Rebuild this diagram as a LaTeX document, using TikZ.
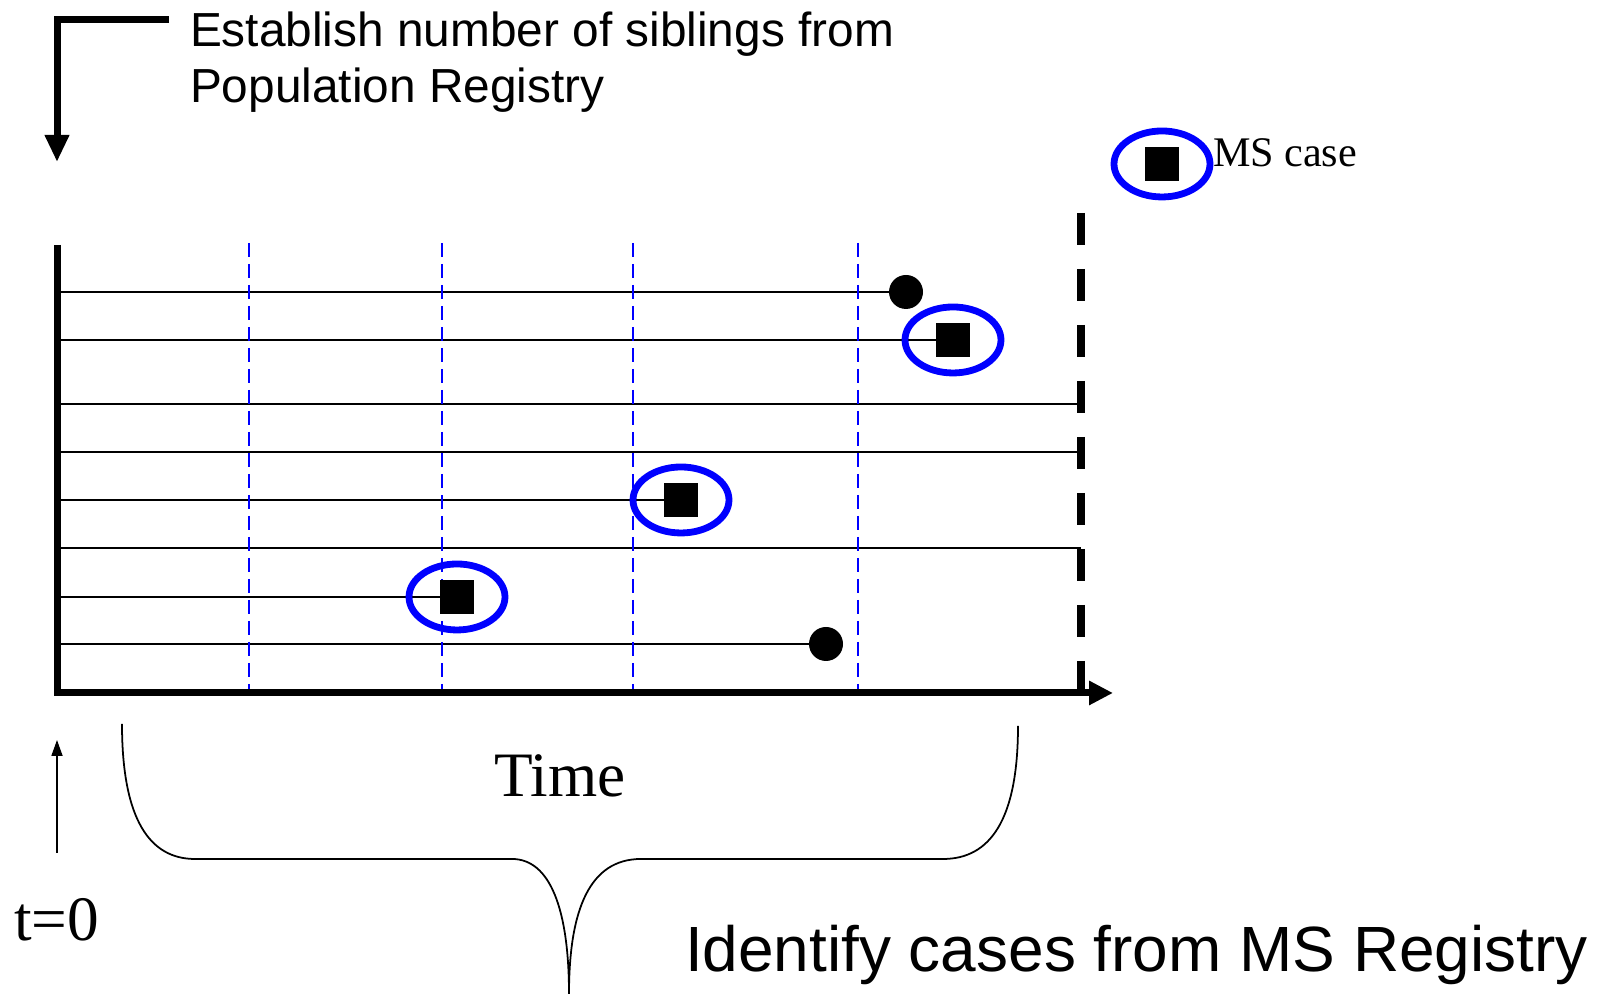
\documentclass[tikz,border=0pt]{standalone}
\usepackage{fontspec}
\setmainfont{Liberation Serif}
\newfontfamily\arialfont{Liberation Sans}
\usepackage{tikz}
\usetikzlibrary{arrows.meta,shapes.geometric,backgrounds}

\begin{document}
\begin{tikzpicture}[
>=Stealth,
every node/.style={inner sep=0pt,outer sep=0pt},
axis/.style={line width=0.07cm},
row/.style={line width=0.5pt},
visit/.style={blue,line width=0.5pt,dash pattern=on 0.14cm off 0.07cm},
censor/.style={line width=0.08cm,dash pattern=on 0.32cm off 0.24cm},
death/.style={circle,fill=black,minimum size=0.34cm},
case/.style={rectangle,fill=black,minimum size=0.34cm},
ring/.style={ellipse,draw=blue,line width=0.068cm,minimum width=0.96cm,minimum height=0.66cm},
serif/.style={font=\fontsize{18}{21}\selectfont},
sans/.style={font=\arialfont\fontsize{13.6}{16}\selectfont}
]
\useasboundingbox (0,0) rectangle (16.07,9.94);

% Axes
\coordinate (origin) at (0.57,3.01);
\coordinate (ytop) at (0.57,7.49);
\coordinate (xend) at (11.13,3.01);
\draw[axis,-{Triangle[length=0.24cm,width=0.23cm]}] (ytop) |- (xend);

% End of follow-up
\coordinate (fu) at (10.81,7.81);
\draw[censor] (fu) -- (fu |- origin);

% Siblings: deaths, MS cases
\node[death] (d1) at (9.06,7.02) {};
\node[ring] (r1) at (9.53,6.54) {};
\node[case] (s1) at (9.53,6.54) {};
\node[ring] (r2) at (6.81,4.94) {};
\node[case] (s2) at (6.81,4.94) {};
\node[ring] (r3) at (4.57,3.97) {};
\node[case] (s3) at (4.57,3.97) {};
\node[death] (d2) at (8.26,3.50) {};

\begin{scope}[on background layer]
% follow-up lines
\foreach \m in {d1,s1,s2,s3,d2}
  \draw[row] (origin |- \m) -- (\m);
\foreach \y [count=\i] in {5.90,5.42,4.46} {
  \coordinate (c\i) at (10.81,\y);
  \draw[row] (origin |- c\i) -- (c\i);
}
% registry checks
\foreach \x [count=\i] in {2.49,4.42,6.33,8.58} {
  \coordinate (v\i) at (\x,7.51);
  \draw[visit] (v\i) -- (v\i |- origin);
}
\end{scope}

% Legend
\node[ring] (keyring) at (11.62,8.30) {};
\node[case] (key) at (11.62,8.30) {};
\node[anchor=base west,font=\fontsize{12}{14}\selectfont] (keytext) at (12.13,8.27) {MS case};

% Population Registry
\node[sans,anchor=base west,align=left] (pop) at (1.90,8.915)
  {Establish number of siblings from\\Population Registry};
\coordinate (popend) at (1.69,9.74);
\coordinate (start) at (0.57,8.32);
\draw[axis,-{Triangle[length=0.27cm,width=0.23cm]}] (popend) -| (start);

% t=0
\node[serif,anchor=base west] (tzero) at (0.14,0.53) {t=0};
\coordinate (t0) at (0.57,1.41);
\coordinate (t0up) at (0.57,2.54);
\draw[line width=0.5pt,-{Triangle[length=0.16cm,width=0.11cm]}] (t0) -- (t0up);

% Time and MS Registry brace
\node[serif,anchor=base] (time) at (5.60,1.97) {Time};
\draw[line width=0.5pt] (1.22,2.70) .. controls (1.22,1.74) and (1.50,1.35) .. (1.95,1.35)
  -- (5.12,1.35) .. controls (5.50,1.35) and (5.69,0.85) .. (5.69,0)
  .. controls (5.69,0.85) and (5.90,1.35) .. (6.41,1.35)
  -- (9.43,1.35) .. controls (9.90,1.35) and (10.18,1.74) .. (10.18,2.68);
\node[anchor=base west,font=\arialfont\fontsize{18.2}{22}\selectfont] (ident) at (6.85,0.22)
  {Identify cases from MS Registry};

\end{tikzpicture}
\end{document}
